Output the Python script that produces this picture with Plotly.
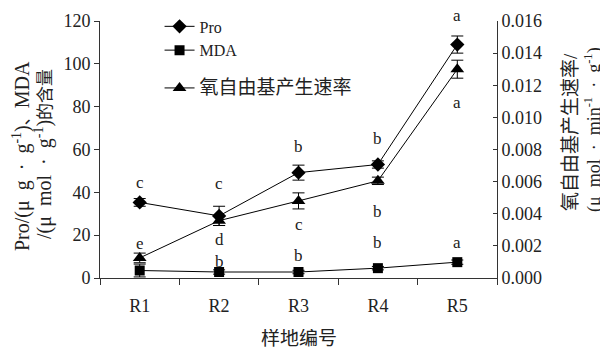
import plotly.graph_objects as go

sites = ["R1", "R2", "R3", "R4", "R5"]
pro = [35.3, 29.0, 49.2, 53.0, 109.0]
pro_err = [1.8, 4.5, 3.5, 1.7, 4.0]
mda = [3.5, 2.8, 2.8, 4.6, 7.4]
mda_err = [3.0, 1.0, 0.8, 0.8, 1.0]
ros = [0.00125, 0.00357, 0.00480, 0.00605, 0.01300]
ros_err = [0.00030, 0.00030, 0.00050, 0.00023, 0.00056]

pro_letters = ["c", "c", "b", "b", "a"]
pro_letter_y = [45.0, 44.5, 61.6, 65.2, 123.0]
ros_letters = ["e", "d", "c", "b", "a"]
ros_letter_y = [16.5, 18.1, 25.1, 31.4, 82.3]
mda_letters = ["", "b", "b", "b", "a"]
mda_letter_y = [None, 8.1, 10.7, 16.9, 16.9]

Y1_RANGE = [0, 120]
Y2_RANGE = [0, 0.016]

FONT = "Liberation Serif, Noto Sans CJK SC, serif"
ES = "\u2002"

# figure is drawn at an 8px body offset in the page
W, H = 600, 339
ML, MR, MT, MB = 92, 111, 13, 69
PW, PH = W - ML - MR, H - MT - MB


def px(fx):
    return (fx - ML) / PW


def py(fy):
    return 1 - (fy - MT) / PH


fig = go.Figure()
eb = dict(type="data", color="black", thickness=1, width=6)
fig.add_trace(go.Scatter(x=sites, y=pro, name="Pro", mode="lines+markers", legendgroup="a",
                         line=dict(color="black", width=1),
                         marker=dict(symbol="diamond", size=11, color="black"),
                         error_y=dict(array=pro_err, **eb)))
fig.add_trace(go.Scatter(x=sites, y=mda, name="MDA", mode="lines+markers", legendgroup="a",
                         line=dict(color="black", width=1),
                         marker=dict(symbol="square", size=10, color="black"),
                         error_y=dict(array=mda_err, **eb)))
fig.add_trace(go.Scatter(x=sites, y=ros, name="<span style='font-size:19px'>氧自由基产生速率</span>",
                         mode="lines+markers", legendgroup="b",
                         yaxis="y2",
                         line=dict(color="black", width=1),
                         marker=dict(symbol="triangle-up", size=12, color="black"),
                         error_y=dict(array=ros_err, **eb)))

# significance letters, placed at their left-axis value (as a fraction of the axis range)
for letters, ys in [(pro_letters, pro_letter_y), (ros_letters, ros_letter_y), (mda_letters, mda_letter_y)]:
    for s, l, yv in zip(sites, letters, ys):
        if l and yv is not None:
            fig.add_annotation(x=s, xref="x", yref="paper",
                               y=(yv - Y1_RANGE[0]) / (Y1_RANGE[1] - Y1_RANGE[0]),
                               text=l, showarrow=False, xanchor="center", yanchor="middle",
                               height=14, valign="middle",
                               font=dict(size=17, color="#222", family=FONT))

# axis titles as rotated text
ttl = dict(xref="paper", yref="paper", textangle=-90, showarrow=False,
           xanchor="center", yanchor="middle")
fig.add_annotation(x=px(13), y=py(148),
                   text="Pro/(μ" + ES + "g" + ES + "·" + ES + "g<sup>-1</sup>)<span style='font-size:17px'>、</span>MDA",
                   font=dict(size=20), **ttl)
fig.add_annotation(x=px(35), y=py(146),
                   text="/(μ" + ES + "mol" + ES + "·" + ES + "g<sup>-1</sup>)<span style='font-size:17px'>的含量</span>",
                   font=dict(size=20), **ttl)
fig.add_annotation(x=px(562), y=py(124), text="氧自由基产生速率/",
                   font=dict(size=19), **ttl)
fig.add_annotation(x=px(585), y=py(122),
                   text="(μ" + ES + "mol" + ES + "·" + ES + "min<sup>-1</sup>" + ES + "·" + ES + "g<sup>-1</sup>)",
                   font=dict(size=18), **ttl)
fig.add_annotation(x=0.5, y=py(330), xref="paper", yref="paper", showarrow=False,
                   xanchor="center", yanchor="middle", height=19, valign="middle",
                   text="样地编号", font=dict(size=19))

fig.update_layout(
    width=W, height=H,
    margin=dict(l=ML, r=MR, t=MT, b=MB, autoexpand=False),
    paper_bgcolor="white", plot_bgcolor="white",
    font=dict(family=FONT, size=17, color="#222"),
    showlegend=True,
    legend=dict(x=0.15, y=1.045, xanchor="left", yanchor="top",
                bgcolor="rgba(0,0,0,0)", font=dict(size=16), tracegroupgap=14),
    xaxis=dict(type="category", range=[-0.5, 4.5], showline=True, linecolor="#333", linewidth=1,
               ticks="outside", ticklen=6, tickcolor="#333", tickson="boundaries",
               showgrid=False, zeroline=False, ticklabelstandoff=11,
               tickfont=dict(size=18)),
    yaxis=dict(range=Y1_RANGE, dtick=20, showline=True, linecolor="#333", linewidth=1,
               ticks="outside", ticklen=5, tickcolor="#333", showgrid=False, zeroline=False,
               tickfont=dict(size=18)),
    yaxis2=dict(range=Y2_RANGE, dtick=0.002, tickformat=".3f", overlaying="y", side="right",
                showline=True, linecolor="#333", linewidth=1,
                ticks="inside", ticklen=4, tickcolor="#333", showgrid=False, zeroline=False,
                tickfont=dict(size=18)),
)

fig.write_html("out.html")
